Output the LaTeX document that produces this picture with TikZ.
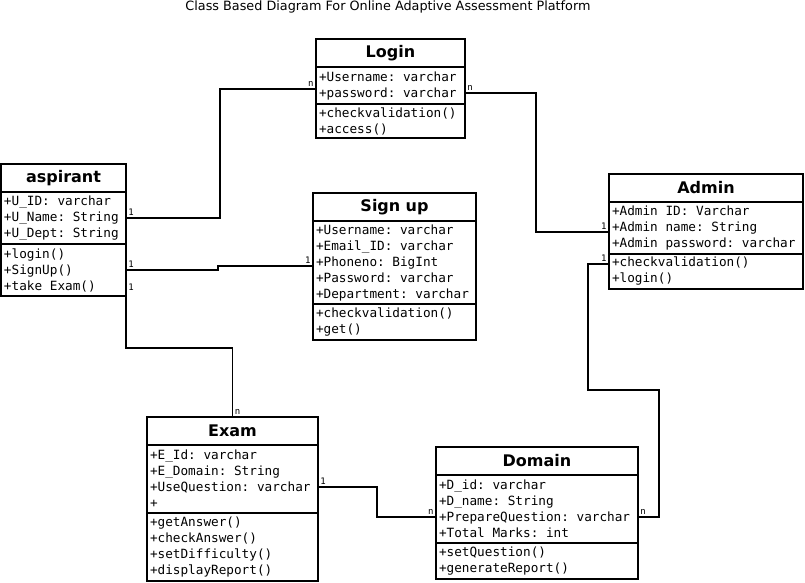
\documentclass[tikz,border=0pt]{standalone}
\usepackage{fontspec}
\setmainfont{DejaVu Sans}
\setmonofont{DejaVu Sans Mono}
\usetikzlibrary{positioning}

\begin{document}
\begin{tikzpicture}[
		x=1pt, y=-1pt,
		line width=1.8pt,
		ClassHead/.style={
			draw, anchor=north west, minimum height=28pt, outer sep=0pt,
			inner xsep=3pt, inner ysep=0pt, align=center,
			font=\fontsize{16}{18}\selectfont\bfseries
		},
		ClassPart/.style={
			draw, outer sep=0pt, inner xsep=3pt, inner ysep=0pt, align=flush left,
			font=\fontsize{12.7}{16}\ttfamily\frenchspacing
		},
		Link/.style={line width=1.8pt},
		Mult/.style={font=\fontsize{9}{10}\ttfamily, inner sep=1.5pt}
		]
		
		\useasboundingbox (0,0) rectangle (805,583);
		
		\node [font=\fontsize{12.8}{14}\selectfont] (Title) at (388,7)
		{Class Based Diagram For Online Adaptive Assessment Platform};
		
		% Login
		\node [ClassHead, text width=143pt] (Login) at (316,39) {Login};
		\node [ClassPart, text width=143pt, minimum height=37pt, below=0pt of Login] (LoginA)
		{+Username: varchar\\+password: varchar};
		\node [ClassPart, text width=143pt, minimum height=34pt, below=0pt of LoginA] (LoginM)
		{+checkvalidation()\\+access()};
		
		% aspirant
		\node [ClassHead, text width=119pt] (Asp) at (1,164) {aspirant};
		\node [ClassPart, text width=119pt, minimum height=52pt, below=0pt of Asp] (AspA)
		{+U\_ID: varchar\\+U\_Name: String\\+U\_Dept: String};
		\node [ClassPart, text width=119pt, minimum height=52pt, below=0pt of AspA] (AspM)
		{+login()\\+SignUp()\\+take Exam()};
		
		% Sign up
		\node [ClassHead, text width=157pt] (Sign) at (313,193) {Sign up};
		\node [ClassPart, text width=157pt, minimum height=83pt, below=0pt of Sign] (SignA)
		{+Username: varchar\\+Email\_ID: varchar\\+Phoneno: BigInt\\+Password: varchar\\+Department: varchar};
		\node [ClassPart, text width=157pt, minimum height=36pt, below=0pt of SignA] (SignM)
		{+checkvalidation()\\+get()};
		
		% Admin
		\node [ClassHead, text width=188pt] (Admin) at (609,174) {Admin};
		\node [ClassPart, text width=188pt, minimum height=52pt, below=0pt of Admin] (AdminA)
		{+Admin ID: Varchar\\+Admin name: String\\+Admin password: varchar};
		\node [ClassPart, text width=188pt, minimum height=35pt, below=0pt of AdminA] (AdminM)
		{+checkvalidation()\\+login()};
		
		% Exam
		\node [ClassHead, text width=165pt] (Exam) at (147,417) {Exam};
		\node [ClassPart, text width=165pt, minimum height=68pt, below=0pt of Exam] (ExamA)
		{+E\_Id: varchar\\+E\_Domain: String\\+UseQuestion: varchar\\+};
		\node [ClassPart, text width=165pt, minimum height=68pt, below=0pt of ExamA] (ExamM)
		{+getAnswer()\\+checkAnswer()\\+setDifficulty()\\+displayReport()};
		
		% Domain
		\node [ClassHead, text width=196pt] (Domain) at (436,447) {Domain};
		\node [ClassPart, text width=196pt, minimum height=68pt, below=0pt of Domain] (DomainA)
		{+D\_id: varchar\\+D\_name: String\\+PrepareQuestion: varchar\\+Total Marks: int};
		\node [ClassPart, text width=196pt, minimum height=36pt, below=0pt of DomainA] (DomainM)
		{+setQuestion()\\+generateReport()};
		
		% associations
		\draw [Link]
		(AspA.east) node [Mult, above right] {1}
		-- ++(94,0) |- ([yshift=-3.5pt]LoginA.west) node [Mult, above left] {n};
		
		\draw [Link]
		(AspM.east) node [Mult, above right] {1}
		-- ++(92,0) |- ([yshift=-3.5pt]SignA.west) node [Mult, above left] {1};
		
		\draw [Link]
		([yshift=-12pt]AspM.east) node [Mult, below right] {1}
		-- ++(0,66) -| (Exam.north) node [Mult, above right] {n};
		
		\draw [Link]
		([yshift=-7.5pt]LoginA.east) node [Mult, above right] {n}
		-- ++(71,0) |- ([yshift=-4pt]AdminA.west) node [Mult, above left] {1};
		
		\draw [Link]
		([yshift=7.5pt]AdminM.west) node [Mult, above left] {1}
		-- ++(-21,0) -- ++(0,126) -- ++(71,0) |- ([yshift=-8pt]DomainA.east) node [Mult, above right] {n};
		
		\draw [Link]
		([yshift=-8pt]ExamA.east) node [Mult, above right] {1}
		-- ++(59,0) |- ([yshift=-8pt]DomainA.west) node [Mult, above left] {n};
		
		\end{tikzpicture}
\end{document}
